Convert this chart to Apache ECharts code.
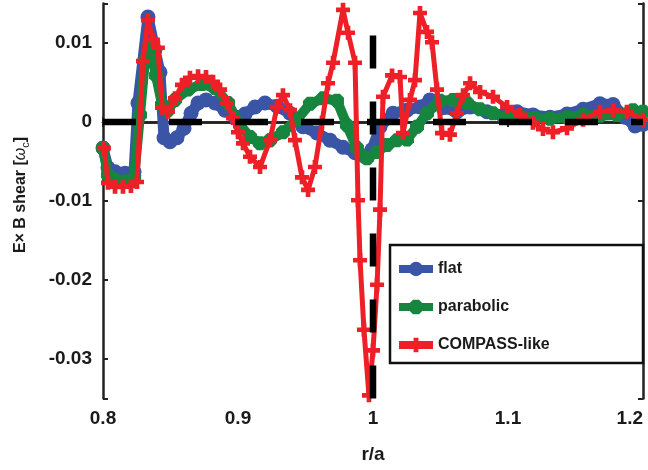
<!DOCTYPE html>
<html>
<head>
<meta charset="utf-8">
<script src="https://cdn.jsdelivr.net/npm/echarts@6/dist/echarts.min.js"></script>
<style>
  html, body { margin: 0; padding: 0; background: #fff; }
  #main { width: 648px; height: 470px; }
</style>
</head>
<body>
<div id="main"></div>
<script>
// flat
var flatX = [0.8, 0.8037, 0.8089, 0.8163, 0.823, 0.8259, 0.8333, 0.8385, 0.8422, 0.8452, 0.8496, 0.8548, 0.86, 0.8652, 0.8704, 0.8763, 0.883, 0.8904, 0.8978, 0.9052, 0.9126, 0.92, 0.9289, 0.9385, 0.9481, 0.9585, 0.9681, 0.9778, 0.9867, 0.9941, 0.9993, 1.0052, 1.0148, 1.0252, 1.0348, 1.0422, 1.0519, 1.0622, 1.0719, 1.0844, 1.0963, 1.1067, 1.1185, 1.1311, 1.1437, 1.1556, 1.1681, 1.1778, 1.1867, 1.1941, 1.2]
var flatY = [-0.0033, -0.0058, -0.0063, -0.0065, -0.0063, 0.0024, 0.0133, 0.0091, 0.0063, -0.002, -0.0025, -0.002, -0.0008, 0.0011, 0.0024, 0.0028, 0.0024, 0.0015, 0.0006, 0.001, 0.0019, 0.0024, 0.002, 0.0011, -0.0006, -0.0014, -0.0023, -0.0032, -0.0039, -0.0044, -0.0035, -0.0006, 0.0011, 0.0015, 0.0019, 0.0028, 0.0018, 0.0013, 0.0019, 0.0013, 0.0008, 0.0013, 0.0009, 0.0006, 0.001, 0.0016, 0.0023, 0.0022, 0.0006, -0.0005, -0.0003]

// parabolic
var paraX = [0.8, 0.8037, 0.8089, 0.8163, 0.823, 0.8274, 0.8311, 0.8348, 0.8393, 0.8437, 0.8481, 0.8533, 0.863, 0.8733, 0.883, 0.8926, 0.9015, 0.9089, 0.9163, 0.9237, 0.9333, 0.9437, 0.9533, 0.963, 0.9733, 0.9807, 0.9881, 0.9956, 1.003, 1.0104, 1.0178, 1.0252, 1.0326, 1.04, 1.0496, 1.0593, 1.0696, 1.0793, 1.0889, 1.0993, 1.1089, 1.12, 1.1311, 1.1437, 1.1556, 1.1681, 1.1807, 1.1926, 1.2]
var paraY = [-0.0033, -0.0067, -0.0073, -0.0075, -0.0071, 0.0009, 0.0078, 0.0097, 0.0059, 0.0022, 0.0015, 0.0028, 0.0041, 0.0048, 0.0043, 0.0024, -0.0004, -0.0019, -0.0027, -0.0023, -0.0013, 0.0003, 0.0023, 0.003, 0.0027, -0.0004, -0.0033, -0.0046, -0.0038, -0.0029, -0.0023, -0.0022, -0.0006, 0.0011, 0.0027, 0.0028, 0.0024, 0.0016, 0.0011, 0.0005, 0.0008, 0.0005, 0.0004, 0.0006, 0.0009, 0.0008, 0.0009, 0.0015, 0.0013]

// COMPASS-like
var compX = [0.8007, 0.8037, 0.8089, 0.8148, 0.8207, 0.8252, 0.8296, 0.8333, 0.837, 0.8407, 0.8437, 0.8481, 0.8533, 0.8585, 0.8644, 0.8704, 0.8763, 0.8815, 0.8867, 0.8919, 0.8963, 0.9, 0.9037, 0.9089, 0.9163, 0.9237, 0.9289, 0.9333, 0.9385, 0.9422, 0.9474, 0.9519, 0.957, 0.9622, 0.9667, 0.9704, 0.9778, 0.9815, 0.9867, 0.9889, 0.9904, 0.9933, 0.997, 1.0, 1.003, 1.0052, 1.0074, 1.0141, 1.02, 1.0222, 1.0274, 1.0311, 1.0348, 1.04, 1.0437, 1.0474, 1.0511, 1.057, 1.0622, 1.0667, 1.0719, 1.0793, 1.0889, 1.0993, 1.1089, 1.1185, 1.1259, 1.1333, 1.1437, 1.1556, 1.1681, 1.1778, 1.1881, 1.2]
var compY = [-0.0033, -0.0077, -0.0082, -0.0082, -0.0081, -0.0076, 0.0077, 0.0129, 0.0104, 0.0094, 0.0018, 0.0013, 0.003, 0.0047, 0.0056, 0.0058, 0.0057, 0.0051, 0.0041, 0.0024, 0.0005, -0.0013, -0.0027, -0.0044, -0.0057, -0.0023, 0.0019, 0.0034, 0.0015, -0.0023, -0.007, -0.0086, -0.0057, -0.0001, 0.0049, 0.0075, 0.0142, 0.0113, 0.0075, -0.0099, -0.0175, -0.0263, -0.0346, -0.0289, -0.0206, -0.0111, 0.0032, 0.0059, 0.0057, -0.0014, 0.0028, 0.0053, 0.0138, 0.0114, 0.0101, 0.0041, -0.0014, -0.0016, 0.0011, 0.0034, 0.0049, 0.0038, 0.0032, 0.0019, 0.0009, -0.0001, -0.0009, -0.0013, -0.0008, 0.0003, 0.0013, 0.0015, 0.0013, 0.0003]

var seriesNames = ['flat', 'parabolic', 'COMPASS-like']

function pairs(xs, ys) {
  var out = []
  for (var i = 0; i < xs.length; i++) {
    out.push([xs[i], ys[i]])
  }
  return out
}

var FONT = '"Liberation Sans", Arial, sans-serif'
var BLUE = '#3a55a6'
var GREEN = '#16853e'
var RED = '#ee1f26'

var hexPath = 'path://M-1,-2.4 L1,-2.4 L2.4,-1 L2.4,1 L1,2.4 L-1,2.4 L-2.4,1 L-2.4,-1 Z'
var plusPath = 'path://M-1,-3 L1,-3 L1,-1 L3,-1 L3,1 L1,1 L1,3 L-1,3 L-1,1 L-3,1 L-3,-1 L-1,-1 Z'

var myChart = echarts.init(document.getElementById('main'))

// only label the multiples of 0.01
var tickFmt = function (v) {
  if (Math.abs(Math.round(v * 100) - v * 100) > 1e-6) return ''
  return String(+v.toFixed(2))
}

var option = {
  animation: false,
  backgroundColor: '#fff',
  grid: { left: 103, right: 5, top: 3.5, bottom: 71.5, outerBoundsMode: 'none' },
  legend: {
    data: seriesNames,
    orient: 'vertical',
    left: 390,
    top: 256,
    itemGap: 22,
    itemWidth: 34,
    itemHeight: 18,
    z: 20,
    lineStyle: { width: 8 },
    textStyle: { fontFamily: FONT, fontWeight: 'bold', fontSize: 16, color: '#1a1a1a' },
  },
  graphic: [
    {
      type: 'rect',
      shape: { x: 390, y: 245, width: 253, height: 118 },
      style: { fill: '#fff', stroke: '#111', lineWidth: 2.5 },
      z: 10,
    },
  ],
  xAxis: [
    {
      type: 'value',
      min: 0.8,
      max: 1.2,
      interval: 0.1,
      name: 'r/a',
      nameLocation: 'middle',
      nameGap: 47,
      nameTextStyle: { fontFamily: FONT, fontWeight: 'bold', fontSize: 19, color: '#1a1a1a' },
      axisLine: { lineStyle: { color: '#222', width: 2.5 } },
      axisTick: { inside: true, length: 5, lineStyle: { color: '#222', width: 2 } },
      axisLabel: {
        margin: 11,
        alignMaxLabel: 'right',
        fontFamily: FONT, fontWeight: 'bold', fontSize: 19, color: '#1a1a1a',
        formatter: function (v) { return String(+v.toFixed(2)) },
      },
      splitLine: { show: false },
    },
    {
      type: 'value',
      position: 'top',
      min: 0.8,
      max: 1.2,
      interval: 0.1,
      axisLine: { lineStyle: { color: '#222', width: 2.5 } },
      axisTick: { inside: true, length: 5, lineStyle: { color: '#222', width: 2 } },
      axisLabel: { show: false },
      splitLine: { show: false },
    },
  ],
  yAxis: [
    {
      type: 'value',
      min: -0.035,
      max: 0.015,
      splitNumber: 5,
      name: '{a|E× B shear [}{w|ω}{s|c}{a|]}',
      nameLocation: 'middle',
      nameGap: 72,
      nameTextStyle: {
        padding: [0, 0, 0, 12],
        rich: {
          a: { fontFamily: FONT, fontWeight: 'bold', fontSize: 16, color: '#1a1a1a', lineHeight: 20 },
          w: { fontFamily: FONT, fontStyle: 'italic', fontSize: 16, color: '#1a1a1a', lineHeight: 20 },
          s: { fontFamily: FONT, fontSize: 11, color: '#1a1a1a', padding: [9, 0, 0, 0], lineHeight: 20 },
        },
      },
      axisLine: { lineStyle: { color: '#222', width: 2.5 } },
      axisTick: { inside: true, length: 5, lineStyle: { color: '#222', width: 2 } },
      axisLabel: {
        margin: 11,
        fontFamily: FONT, fontWeight: 'bold', fontSize: 19, color: '#1a1a1a',
        formatter: tickFmt,
      },
      splitLine: { show: false },
    },
    {
      type: 'value',
      position: 'right',
      min: -0.035,
      max: 0.015,
      splitNumber: 5,
      axisLine: { lineStyle: { color: '#222', width: 2.5 } },
      axisTick: { inside: true, length: 5, lineStyle: { color: '#222', width: 2 } },
      axisLabel: { show: false },
      splitLine: { show: false },
    },
  ],
  series: [
    {
      name: 'flat',
      type: 'line',
      data: pairs(flatX, flatY),
      symbol: 'circle',
      symbolSize: 15,
      showAllSymbol: true,
      lineStyle: { color: BLUE, width: 11 },
      itemStyle: { color: BLUE, borderWidth: 0 },
      z: 2,
    },
    {
      name: 'parabolic',
      type: 'line',
      data: pairs(paraX, paraY),
      symbol: hexPath,
      symbolSize: 14,
      showAllSymbol: true,
      lineStyle: { color: GREEN, width: 10 },
      itemStyle: { color: GREEN, borderWidth: 0 },
      z: 3,
    },
    {
      name: 'COMPASS-like',
      type: 'line',
      data: pairs(compX, compY),
      symbol: plusPath,
      symbolSize: 14,
      showAllSymbol: true,
      lineStyle: { color: RED, width: 5 },
      itemStyle: { color: RED, borderWidth: 0 },
      z: 4,
    },
    {
      name: 'zeroLine',
      type: 'line',
      data: [[0.8, 0], [1.2, 0]],
      symbol: 'none',
      silent: true,
      lineStyle: { color: '#000', width: 6.5, type: [33, 33], cap: 'butt' },
      z: 5,
    },
    {
      name: 'edgeLine',
      type: 'line',
      data: [[1, -0.035], [1, 0.015]],
      symbol: 'none',
      silent: true,
      lineStyle: { color: '#000', width: 6.5, type: [33, 33], cap: 'butt' },
      z: 5,
    },
  ],
}
myChart.setOption(option)
</script>
</body>
</html>
